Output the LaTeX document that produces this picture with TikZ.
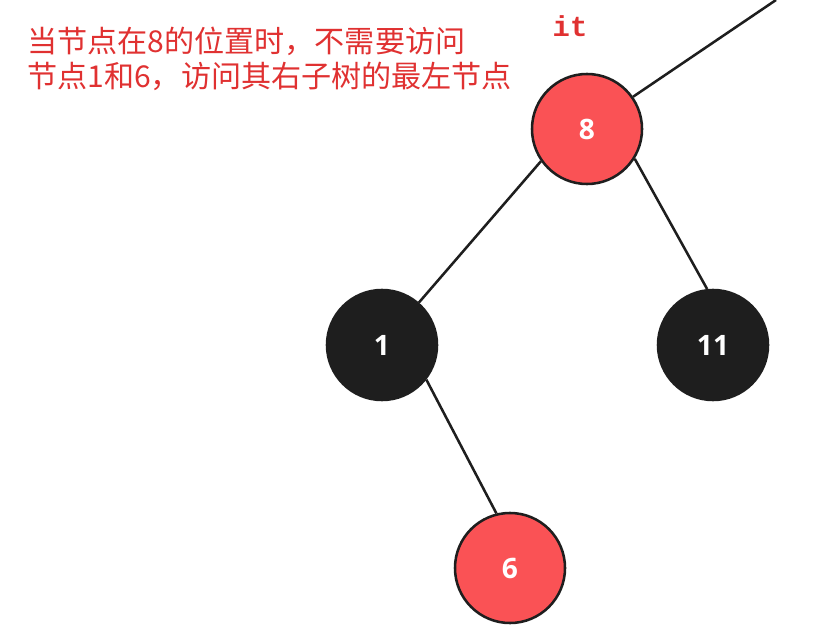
\documentclass[tikz,border=0pt]{standalone}
\usepackage{fontspec}
\setmainfont{Open Sans}
\newfontfamily\cjkfont{Noto Sans CJK SC}
\setmonofont{Liberation Mono}
\usetikzlibrary{positioning}
\definecolor{nodered}{RGB}{250,82,85}
\definecolor{nodeblack}{RGB}{30,30,30}
\definecolor{notered}{RGB}{224,49,49}
\tikzset{basic/.style={draw=nodeblack,line width=1.8pt,circle,minimum size=2.75cm,text=white,font=\bfseries\fontsize{20}{22}\selectfont}}
\tikzset{rednode/.style={basic,fill=nodered}}
\tikzset{blacknode/.style={basic,fill=nodeblack}}
\tikzset{edge/.style={draw=nodeblack,line width=1.8pt}}

\begin{document}
\begin{tikzpicture}[x=0.025cm,y=-0.025cm]
        \useasboundingbox (0,0) rectangle (821,643);
        \node[rednode] (n8) at (587,129) {8};
        \node[blacknode] (n1) at (382,345) {1};
        \node[blacknode] (n11) at (713,345) {11};
        \node[rednode] (n6) at (510,568) {6};
        \coordinate (up) at (776,0);
            \path[edge] (n8.35) -- (up);
            \path[edge] (n8.215) -- (n1.49);
            \path[edge] (n8.-32) -- (n11.96);
            \path[edge] (n1.-38) -- (n6.104);
        \node[font=\ttfamily\bfseries\fontsize{20.5}{22}\selectfont,text=notered,anchor=base] (it) at (570,37) {it};
        \node[font=\cjkfont\fontsize{21.4}{24.5}\selectfont,text=notered,align=left,anchor=north west,inner sep=0pt] (note) at (27,27)
            {当节点在8的位置时，不需要访问\\节点1和6，访问其右子树的最左节点};
    \end{tikzpicture}
\end{document}
